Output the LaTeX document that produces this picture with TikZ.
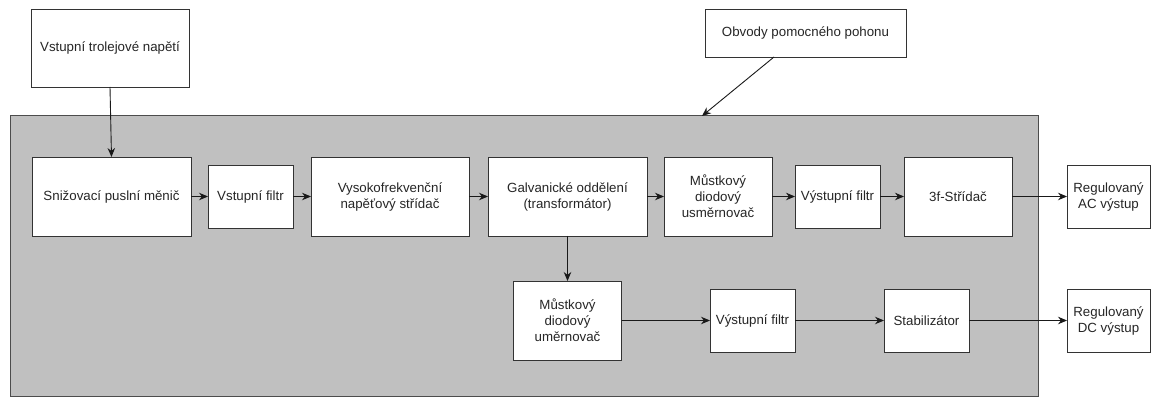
\documentclass[tikz,border=0pt]{standalone}
\usepackage{fontspec}
\setmainfont{Liberation Sans}
\usetikzlibrary{arrows.meta}
\begin{document}
\begin{tikzpicture}[x=1pt,y=-1pt,
  blk/.style={draw=black!80, line width=0.9pt, fill=white, inner sep=0pt, outer sep=0pt,
    align=center, text=black!85, font=\fontsize{13.3}{16}\selectfont},
  panel/.style={draw=black!70, line width=1pt, fill=gray!50!white, inner sep=0pt, outer sep=0pt},
  arr/.style={draw=black!90, line width=0.9pt, -{Stealth[length=9pt,width=7.5pt]}}]
\useasboundingbox (0,0) rectangle (1152,398);
\definecolor{panelgray}{RGB}{192,192,192}
\node[panel, fill=panelgray, minimum width=1028pt, minimum height=280pt] (panel) at (524,256) {};
% top boxes
\node[blk, minimum width=158pt, minimum height=78pt] (trolej) at (110,48) {Vstupní trolejové napětí};
\node[blk, minimum width=201pt, minimum height=48pt] (obvody) at (805.5,33) {Obvody pomocného pohonu};
% row 1
\node[blk, minimum width=159pt, minimum height=79pt] (sniz) at (111.5,196.5) {Snižovací puslní měnič};
\node[blk, minimum width=85pt, minimum height=63pt] (vstf) at (250.5,196.5) {Vstupní filtr};
\node[blk, minimum width=158pt, minimum height=79pt] (vys) at (390,196.5) {Vysokofrekvenční\\napěťový střídač};
\node[blk, minimum width=159pt, minimum height=79pt] (galv) at (567.5,196.5) {Galvanické oddělení\\(transformátor)};
\node[blk, minimum width=108pt, minimum height=79pt] (must1) at (718,196.5) {Můstkový\\diodový\\usměrnovač};
\node[blk, minimum width=85pt, minimum height=63pt] (vyf1) at (837.5,196.5) {Výstupní filtr};
\node[blk, minimum width=108pt, minimum height=79pt] (strid) at (958,196.5) {3f-Střídač};
\node[blk, minimum width=83pt, minimum height=63pt] (ac) at (1108.5,196.5) {Regulovaný\\AC výstup};
% row 2
\node[blk, minimum width=108pt, minimum height=79pt] (must2) at (567.5,320.5) {Můstkový\\diodový\\uměrnovač};
\node[blk, minimum width=85pt, minimum height=63pt] (vyf2) at (752.5,320.5) {Výstupní filtr};
\node[blk, minimum width=85pt, minimum height=63pt] (stab) at (926.5,320.5) {Stabilizátor};
\node[blk, minimum width=83pt, minimum height=63pt] (dc) at (1108.5,320.5) {Regulovaný\\DC výstup};
% connectors
\coordinate (o1) at (774,57);
\coordinate (p1) at (702,116);
\draw[arr] (trolej.south) -- (sniz.north);
\draw[arr] (o1) -- (p1);
\draw[arr] (sniz) -- (vstf);
\draw[arr] (vstf) -- (vys);
\draw[arr] (vys) -- (galv);
\draw[arr] (galv) -- (must1);
\draw[arr] (must1) -- (vyf1);
\draw[arr] (vyf1) -- (strid);
\draw[arr] (strid) -- (ac);
\draw[arr] (galv.south) -- (must2.north);
\draw[arr] (must2) -- (vyf2);
\draw[arr] (vyf2) -- (stab);
\draw[arr] (stab) -- (dc);
\end{tikzpicture}
\end{document}
